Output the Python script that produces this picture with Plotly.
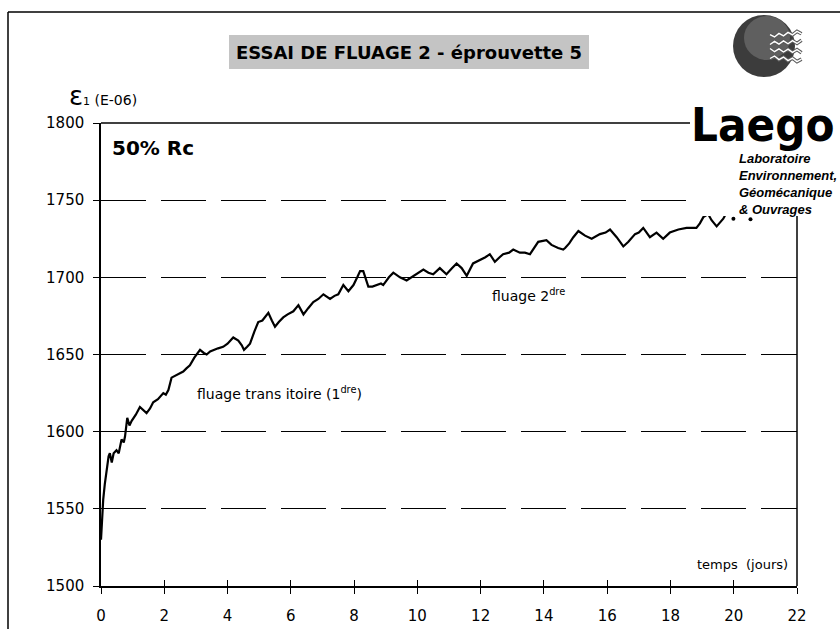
import plotly.graph_objects as go

# Creep test 2, specimen 5 — axial strain (E-06) versus time (days)
temps_jours = [
    0.00, 0.03, 0.07, 0.12, 0.18, 0.24, 0.28, 0.34, 0.40, 0.49, 0.56, 0.65, 0.72, 0.76,
    0.83, 0.90, 0.97, 1.10, 1.23, 1.33, 1.44, 1.55, 1.65, 1.80, 1.97, 2.05, 2.13, 2.23,
    2.40, 2.60, 2.70, 2.81, 2.95, 3.13, 3.25, 3.34, 3.45, 3.55, 3.70, 3.86, 4.00, 4.18,
    4.34, 4.45, 4.52, 4.62, 4.71, 4.85, 4.97, 5.10, 5.29, 5.40, 5.50, 5.62, 5.76, 5.90,
    6.08, 6.24, 6.40, 6.55, 6.71, 6.87, 7.03, 7.24, 7.38, 7.50, 7.66, 7.82, 7.98, 8.10,
    8.19, 8.29, 8.45, 8.58, 8.71, 8.85, 8.92, 9.10, 9.24, 9.45, 9.66, 9.87, 10.05, 10.19,
    10.35, 10.50, 10.71, 10.92, 11.10, 11.24, 11.40, 11.56, 11.76, 11.98, 12.15, 12.29,
    12.45, 12.60, 12.71, 12.90, 13.03, 13.24, 13.40, 13.56, 13.70, 13.82, 14.08, 14.24,
    14.45, 14.61, 14.67, 14.80, 14.93, 15.09, 15.30, 15.51, 15.77, 15.95, 16.09, 16.30,
    16.51, 16.67, 16.88, 17.00, 17.14, 17.35, 17.56, 17.77, 17.98, 18.25, 18.51, 18.70,
    18.82, 18.93, 19.04, 19.19, 19.30, 19.46, 19.67, 19.75,
]
deformation = [
    1530, 1545, 1556, 1566, 1575, 1584, 1586, 1580, 1586, 1588, 1586, 1595, 1593, 1597,
    1609, 1604, 1607, 1611, 1616, 1614, 1612, 1615, 1619, 1621, 1625, 1624, 1627, 1635,
    1637, 1639, 1641, 1643, 1648, 1653, 1651, 1650, 1652, 1653, 1654, 1655, 1657, 1661,
    1659, 1656, 1653, 1655, 1657, 1665, 1671, 1672, 1677, 1672, 1668, 1671, 1674, 1676,
    1678, 1682, 1676, 1680, 1684, 1686, 1689, 1686, 1688, 1689, 1695, 1691, 1695, 1700,
    1704, 1704, 1694, 1694, 1695, 1696, 1695, 1700, 1703, 1700, 1698, 1701, 1703, 1705,
    1703, 1702, 1706, 1702, 1706, 1709, 1706, 1701, 1709, 1711, 1713, 1715,
    1710, 1713, 1715, 1716, 1718, 1716, 1716, 1715, 1719, 1723, 1724, 1721,
    1719, 1718, 1719, 1722, 1726, 1730, 1727, 1725, 1728, 1729, 1731, 1726,
    1720, 1723, 1728, 1729, 1732, 1726, 1729, 1725, 1729, 1731, 1732, 1732,
    1732, 1735, 1739, 1741, 1737, 1733, 1738, 1741,
]
# isolated readings at the end of the record
temps_fin = [19.99, 20.53]
deformation_fin = [1738, 1737.6]

y_ticks = [1500, 1550, 1600, 1650, 1700, 1750, 1800]
x_ticks = [0, 2, 4, 6, 8, 10, 12, 14, 16, 18, 20, 22]

W, H = 840, 629
L, R, T, B = 101, 797, 123, 586


def px(x):
    return (x - L) / (R - L)


def py(y):
    return (B - y) / (B - T)


AX_FONT = dict(family="DejaVu Sans", size=15, color="black")

fig = go.Figure()
fig.add_trace(go.Scatter(
    x=temps_jours, y=deformation, mode="lines",
    line=dict(color="black", width=2.2), showlegend=False, hoverinfo="skip",
))
fig.add_trace(go.Scatter(
    x=temps_fin, y=deformation_fin, mode="markers", xaxis="x2",
    marker=dict(color="black", size=4), showlegend=False, hoverinfo="skip",
))

shapes = []
# whole-page frame (left and top edges)
shapes.append(dict(type="line", xref="paper", yref="paper", x0=px(8), x1=px(8), y0=py(12), y1=py(640),
                   line=dict(color="black", width=1.5)))
shapes.append(dict(type="line", xref="paper", yref="paper", x0=px(8), x1=px(850), y0=py(12), y1=py(12),
                   line=dict(color="black", width=1.5)))
# plot box top and right edges
shapes.append(dict(type="line", xref="paper", yref="paper", x0=0, x1=1, y0=1, y1=1,
                   line=dict(color="black", width=1.5), layer="above"))
shapes.append(dict(type="line", xref="paper", yref="paper", x0=1, x1=1, y0=0, y1=1,
                   line=dict(color="black", width=1.5), layer="above"))
# logo block background
shapes.append(dict(type="rect", xref="paper", yref="paper", x0=px(690), x1=px(845), y0=py(216), y1=py(14),
                   fillcolor="white", line=dict(width=0), layer="above"))
# title banner background
shapes.append(dict(type="rect", xref="paper", yref="paper", x0=px(229), x1=px(589), y0=py(69), y1=py(35),
                   fillcolor="#c4c4c4", line=dict(width=0)))
# logo sphere
cx, cy, r = 764, 46, 31
shapes.append(dict(type="circle", xref="paper", yref="paper", x0=px(cx - r), x1=px(cx + r),
                   y0=py(cy + r), y1=py(cy - r), fillcolor="#3c3c3c", line=dict(width=0), layer="above"))
shapes.append(dict(type="circle", xref="paper", yref="paper", x0=px(cx - 20), x1=px(cx + 26),
                   y0=py(cy + 14), y1=py(cy - 30), fillcolor="#8a8a8a", opacity=0.45,
                   line=dict(width=0), layer="above"))
# streaks leaving the sphere
for k, yy in enumerate([36, 43, 50, 57]):
    x0 = cx + 6
    pts = []
    for i in range(8):
        xx = x0 + i * 4.5
        dy = (-1.5 if i % 2 else 1.5) * (1 if k % 2 else -1)
        pts.append((xx, yy + dy + i * (0.35 * (k - 1.5))))
    d = "M " + " L ".join(f"{px(a):.4f},{py(b):.4f}" for a, b in pts)
    shapes.append(dict(type="path", xref="paper", yref="paper", path=d,
                       line=dict(color="#5a5a5a", width=3.5), layer="above"))
    shapes.append(dict(type="path", xref="paper", yref="paper", path=d,
                       line=dict(color="white", width=1.4), layer="above"))

annotations = [
    dict(text="<b>ESSAI DE FLUAGE 2 - éprouvette 5</b>", x=px(409), y=py(52),
         font=dict(family="DejaVu Sans", size=18, color="black")),
    dict(text="<span style='font-size:26px'>ε</span><span style='font-size:11px'>1</span> (E-06)",
         x=px(67), y=py(96), xanchor="left",
         font=dict(family="DejaVu Sans", size=14, color="black")),
    dict(text="<b>50% Rc</b>", x=px(110), y=py(148), xanchor="left",
         font=dict(family="DejaVu Sans", size=20, color="black")),
    dict(text="fluage trans itoire (1<sup>dre</sup>)", x=px(195), y=py(393), xanchor="left",
         font=dict(family="DejaVu Sans", size=14, color="black")),
    dict(text="fluage 2<sup>dre</sup>", x=px(490), y=py(295), xanchor="left",
         font=dict(family="DejaVu Sans", size=14, color="black")),
    dict(text="temps  (jours)", x=px(790), y=py(564), xanchor="right",
         font=dict(family="DejaVu Sans", size=13, color="black")),
    dict(text="<b>Laego</b>", x=px(836), y=py(124), xanchor="right",
         font=dict(family="DejaVu Sans Condensed, DejaVu Sans", size=47, color="black")),
    dict(text="<b><i>Laboratoire<br>Environnement,<br>Géomécanique<br>&amp; Ouvrages</i></b>",
         x=px(737), y=py(149), xanchor="left", yanchor="top", align="left",
         font=dict(family="Liberation Sans", size=13, color="black")),
]
for a in annotations:
    a.setdefault("xref", "paper")
    a.setdefault("yref", "paper")
    a.setdefault("yanchor", "middle")
    a.setdefault("showarrow", False)

fig.update_layout(
    width=W, height=H,
    margin=dict(l=L, r=W - R, t=T, b=H - B, autoexpand=False),
    paper_bgcolor="white", plot_bgcolor="white",
    xaxis=dict(range=[0, 22], tickvals=x_ticks, ticks="outside", ticklen=6, tickwidth=1.3,
               tickcolor="black", showline=True, linecolor="black", linewidth=1.5,
               showgrid=False, zeroline=False, tickfont=AX_FONT, ticklabelstandoff=9,
               automargin=False),
    xaxis2=dict(range=[0, 22], overlaying="x", anchor="y", side="bottom", tickvals=x_ticks,
                ticks="inside", ticklen=6, tickwidth=1.3, tickcolor="black",
                showticklabels=False, showline=False, showgrid=False, zeroline=False,
                automargin=False),
    yaxis=dict(range=[1500, 1800], tickvals=y_ticks, ticks="outside", ticklen=6, tickwidth=1.3,
               tickcolor="black", showline=True, linecolor="black", linewidth=1.5,
               showgrid=True, gridcolor="black", gridwidth=1.3, griddash="45px,15px",
               zeroline=False, tickfont=AX_FONT, ticklabelstandoff=6, automargin=False),
    shapes=shapes,
    annotations=annotations,
)

fig.write_html("out.html")
